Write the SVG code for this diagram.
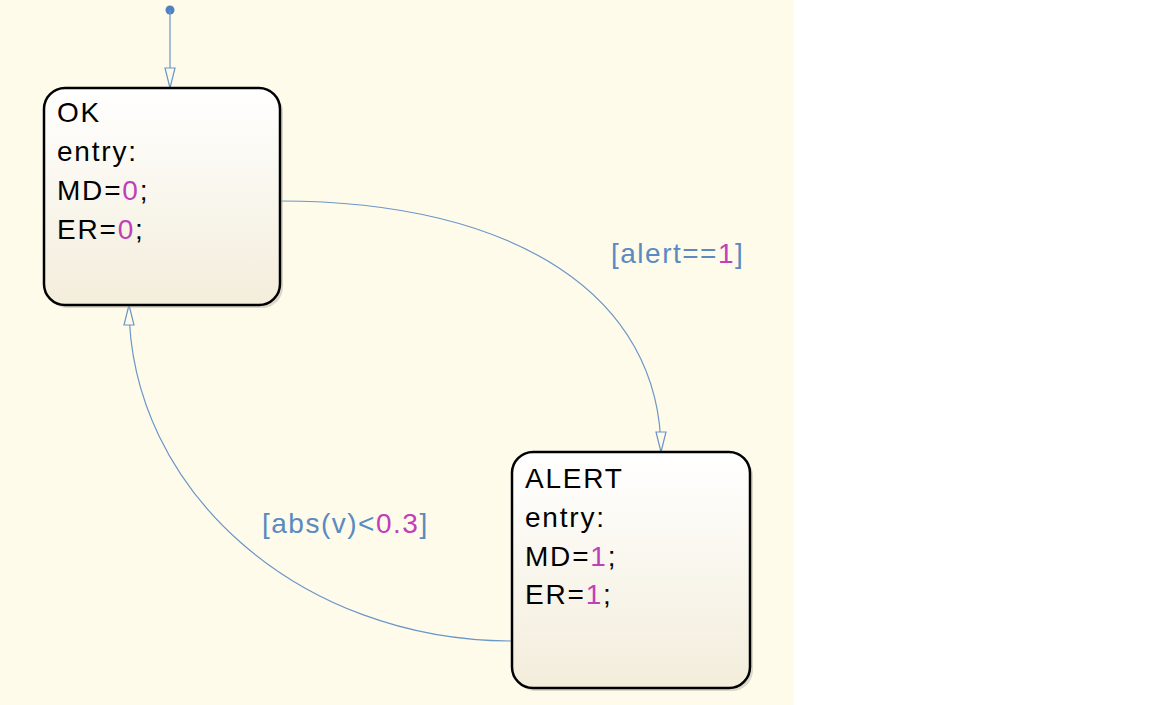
<svg xmlns="http://www.w3.org/2000/svg" width="1152" height="705" viewBox="0 0 1152 705">
<style>
.box{fill:url(#g);stroke:#000;stroke-width:2.5}
.sh{fill:#b8b4a8;opacity:0.5}
.t{font-family:"Liberation Sans",Arial,sans-serif;font-size:28px;fill:#000;letter-spacing:1.8px}
.n{fill:#C040B8}
.lbl{font-family:"Liberation Sans",Arial,sans-serif;font-size:28px;fill:#5A8AC0;letter-spacing:1.5px}
.c{fill:none;stroke:#6A96C8;stroke-width:1.2}
</style>
<defs>
<linearGradient id="g" x1="0" y1="0" x2="0" y2="1">
<stop offset="0" stop-color="#ffffff"/>
<stop offset="1" stop-color="#F3EDDB"/>
</linearGradient>
<marker id="a" viewBox="0 0 22 12" refX="21" refY="6" markerWidth="22" markerHeight="12" markerUnits="userSpaceOnUse" orient="auto">
<path d="M1,1 L21,6 L1,11 Z" fill="#FEFBEB" stroke="#6A96C8" stroke-width="1.2"/>
</marker>
</defs>
<rect x="0" y="0" width="794" height="705" fill="#FEFBEB"/>
<rect x="794" y="0" width="358" height="705" fill="#ffffff"/>

<g id="connectors">
<circle cx="170" cy="10" r="4.5" fill="#4F80C0"/>
<path class="c" d="M170,10 L170,88" marker-end="url(#a)"/>
<path class="c" d="M280,201 C516,201 661,296 661,452" marker-end="url(#a)"/>
<path class="c" d="M512,641 C300,641 129,491 129,305" marker-end="url(#a)"/>
</g>

<g id="OK">
<rect class="sh" x="47" y="91" width="236" height="217" rx="21"/>
<rect class="box" x="44" y="88" width="236" height="217" rx="21"/>
<text class="t" x="57" y="122">OK</text>
<text class="t" x="57" y="161">entry:</text>
<text class="t" x="57" y="200">MD=<tspan class="n">0</tspan>;</text>
<text class="t" x="57" y="239">ER=<tspan class="n">0</tspan>;</text>
</g>

<g id="ALERT">
<rect class="sh" x="515" y="455" width="238" height="236" rx="21"/>
<rect class="box" x="512" y="452" width="238" height="236" rx="21"/>
<text class="t" x="525" y="488">ALERT</text>
<text class="t" x="525" y="527">entry:</text>
<text class="t" x="525" y="566">MD=<tspan class="n">1</tspan>;</text>
<text class="t" x="525" y="604">ER=<tspan class="n">1</tspan>;</text>
</g>

<g id="labels">
<text class="lbl" x="611" y="263">[alert==<tspan class="n">1</tspan>]</text>
<text class="lbl" x="262" y="533">[abs(v)&lt;<tspan class="n">0.3</tspan>]</text>
</g>
</svg>
